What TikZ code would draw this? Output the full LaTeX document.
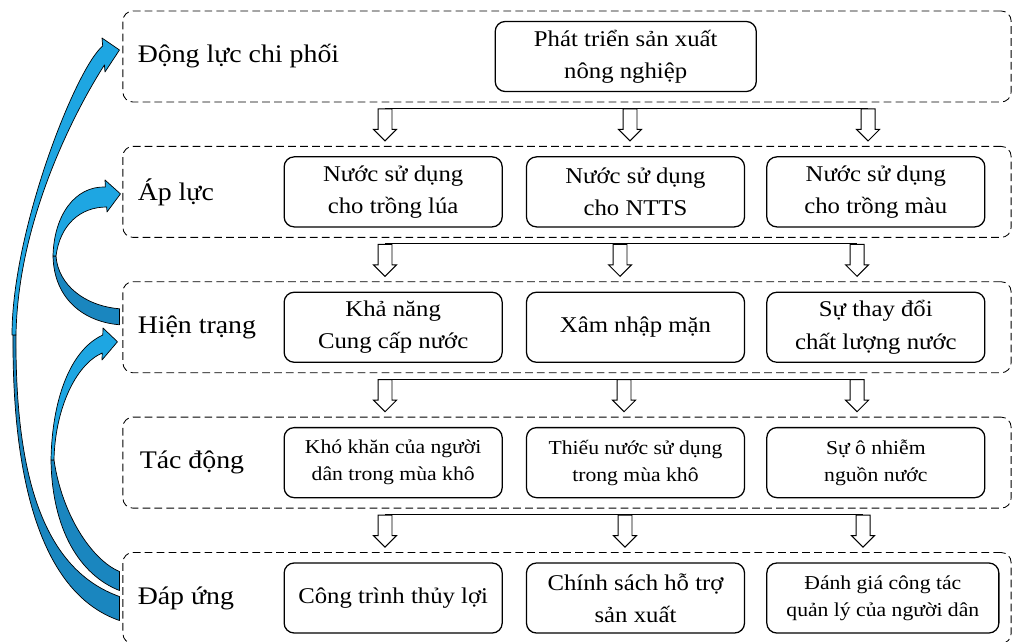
\documentclass[tikz,border=0pt]{standalone}
\usepackage{fontspec}
\setmainfont{Liberation Serif}[FakeStretch=1.1]
\usetikzlibrary{positioning, shapes.arrows, calc}
\definecolor{frontblue}{HTML}{1EA6E2}
\definecolor{backblue}{HTML}{1A86BF}
\newcommand{\boxfont}{\fontsize{16}{22.8}\selectfont}
\newcommand{\boxsmall}{\fontsize{14}{19.2}\selectfont}
\newcommand{\rowfont}{\fontsize{18}{22}\selectfont}

\begin{document}
\begin{tikzpicture}[x=0.025cm, y=-0.025cm,
      row/.style    = {draw, dash pattern=on 5.5pt off 3pt, line width=0.6pt,
                       rounded corners=0.25cm,
                       minimum width=22.2cm, minimum height=2.275cm},
      box/.style    = {draw, line width=0.9pt, rounded corners=0.25cm,
                       minimum width=5.45cm, minimum height=1.75cm,
                       inner sep=1pt, font=\boxfont, align=center},
      lbl/.style    = {font=\rowfont, inner sep=0pt},
      hollow/.style = {single arrow, draw, fill=white, line width=0.7pt,
                       shape border rotate=270, inner sep=0.1625cm,
                       single arrow head extend=0.1125cm, minimum height=0.8cm,
                       anchor=tail, yshift=-0.15cm},
      front/.style  = {draw, fill=frontblue, line width=0.5pt, line join=round},
      back/.style   = {draw, fill=backblue, line width=0.5pt, line join=round}
    ]
    \useasboundingbox (0,0) rectangle (1017,642);

    % the five levels
    \node[row]                    (r1) at (567,56.5) {};
    \node[row, below=1.0875cm of r1] (r2) {};
    \node[row, below=1.0875cm of r2] (r3) {};
    \node[row, below=1.0875cm of r3] (r4) {};
    \node[row, below=1.0875cm of r4] (r5) {};

    \node[lbl, right=0.375cm of r1.west] (l1) {Động lực chi phối};
    \node[lbl, right=0.375cm of r2.west] (l2) {Áp lực};
    \node[lbl, right=0.375cm of r3.west] (l3) {Hiện trạng};
    \node[lbl, right=0.425cm of r4.west] (l4) {Tác động};
    \node[lbl, right=0.375cm of r5.west] (l5) {Đáp ứng};

    \node[box, minimum width=6.525cm, right=9.3cm of r1.west] (b1) {Phát triển sản xuất\\nông nghiệp};

    \node[box, right=4.025cm of r2.west] (b21) {Nước sử dụng\\cho trồng lúa};
    \node[box, right=0.575cm of b21]    (b22) {Nước sử dụng\\cho NTTS};
    \node[box, right=0.525cm of b22]    (b23) {Nước sử dụng\\cho trồng màu};

    \node[box, right=4.025cm of r3.west] (b31) {Khả năng\\Cung cấp nước};
    \node[box, right=0.575cm of b31]    (b32) {Xâm nhập mặn};
    \node[box, right=0.525cm of b32]    (b33) {Sự thay đổi\\chất lượng nước};

    \node[box, font=\boxsmall, right=4.025cm of r4.west] (b41) {Khó khăn của người\\dân trong mùa khô};
    \node[box, font=\boxsmall, right=0.575cm of b41]    (b42) {Thiếu nước sử dụng\\trong mùa khô};
    \node[box, font=\boxsmall, right=0.525cm of b42]    (b43) {Sự ô nhiễm\\nguồn nước};

    \node[box, right=4.025cm of r5.west] (b51) {Công trình thủy lợi};
    \node[box, right=0.575cm of b51]    (b52) {Chính sách hỗ trợ\\sản xuất};
    \node[box, font=\boxsmall, minimum width=5.8cm, right=0.525cm of b52] (b53) {Đánh giá công tác\\quản lý của người dân};

    % hollow arrows between the levels
    \foreach \r/\m/\n in {1/630/868, 2/620/857, 3/624/857, 4/625/863} {
      \foreach \x [count=\i] in {385,\m,\n}
        \node[hollow] (a\r\i) at (\x,0 |- r\r.south) {};
      \draw[line width=0.7pt] (a\r1.tail) -- (a\r3.tail);
    }

    % feedback arrows on the left
    \draw[back] (13,335) .. controls (12,490) and (45,595) .. ($(r5.west)+(-3,22.5)$)
      -- ($(r5.west)+(-3,-1.5)$) .. controls (45,570) and (15,480) .. (16,335) -- cycle;
    \draw[front] (102.7,46) .. controls (76,68) and (12,230) .. (12,335)
      -- (16,335) .. controls (18,210) and (85,95) .. (104.4,65)
      -- (105,72) -- ($(r1.west)+(-3,-6.5)$) -- (102,38) -- cycle;

    \draw[back] (51,460) .. controls (52,530) and (80,575) .. ($(r5.west)+(-3,-7.5)$)
      -- ($(r5.west)+(-3,-26.5)$) .. controls (92,560) and (62,515) .. (54,460) -- cycle;
    \draw[front] (102.8,335) .. controls (70,350) and (52,400) .. (51,460)
      -- (54,460) .. controls (55,410) and (75,365) .. (102.2,353)
      -- (102,360) -- ($(r3.west)+(-5,14.5)$) -- (103,328) -- cycle;

    \draw[back] (53,256) .. controls (54,300) and (85,322) .. ($(r3.west)+(-3,-2.5)$)
      -- ($(r3.west)+(-3,-18.5)$) .. controls (85,306) and (58,285) .. (56,256) -- cycle;
    \draw[front] (105.4,187) .. controls (75,186) and (54,215) .. (53,256)
      -- (56,256) .. controls (60,225) and (80,207) .. (106.7,207)
      -- (107,212) -- ($(r2.west)+(-2,2)$) -- (105,180) -- cycle;
  \end{tikzpicture}
\end{document}
